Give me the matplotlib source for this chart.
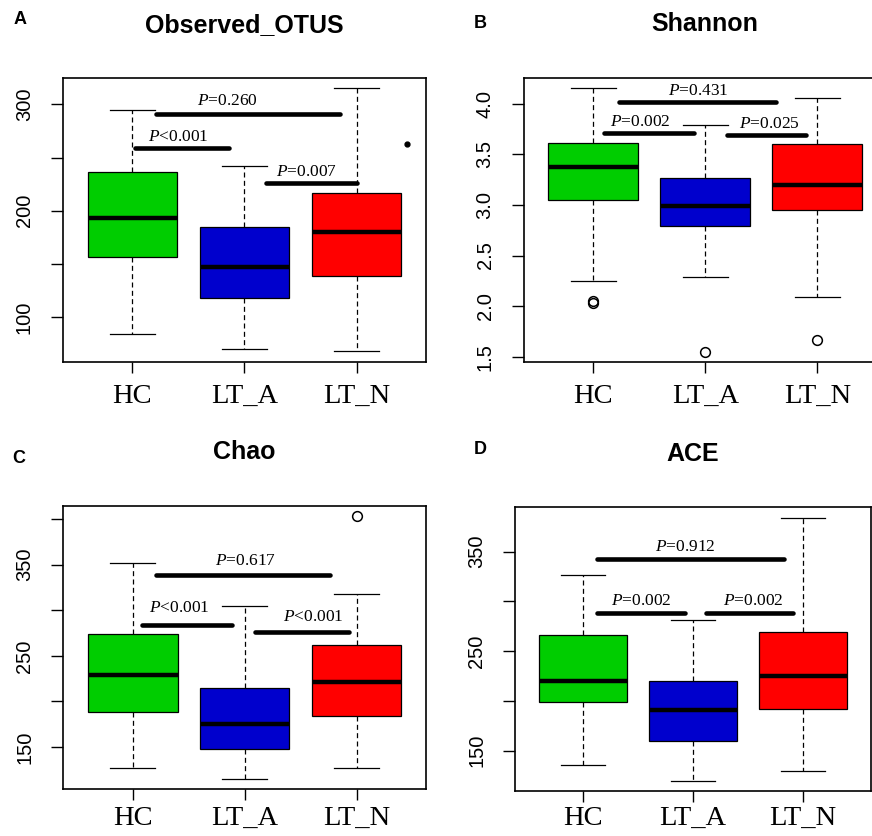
import matplotlib
matplotlib.use('Agg')
import matplotlib.pyplot as plt

plt.rcParams['mathtext.fontset'] = 'custom'
plt.rcParams['mathtext.rm'] = 'Liberation Serif'
plt.rcParams['mathtext.it'] = 'Liberation Serif:italic'
plt.rcParams['lines.scale_dashes'] = False

groups = ['HC', 'LT_A', 'LT_N']
box_colors = ['#00CD00', '#0000CD', '#FF0000']

# Observed_OTUS
otus_whislo = [84, 70, 68]
otus_q1 = [157, 118.5, 138.5]
otus_med = [193, 147, 180]
otus_q3 = [236, 185, 217]
otus_whishi = [295, 242, 315]
otus_fliers = [[], [], []]
otus_stray = [(3.45, 263)]
otus_pvals = ['=0.260', '<0.001', '=0.007']
otus_bar_y = [290.6, 259, 226.4]
otus_bar_x = [(1.21, 2.85), (1.02, 1.86), (2.19, 3.0)]
otus_text_x = [1.85, 1.41, 2.55]
otus_text_y = [303.4, 269.6, 236.7]

# Shannon
shan_whislo = [2.25, 2.29, 2.09]
shan_q1 = [3.045, 2.795, 2.95]
shan_med = [3.378, 2.992, 3.197]
shan_q3 = [3.609, 3.266, 3.605]
shan_whishi = [4.152, 3.786, 4.056]
shan_fliers = [[2.03, 2.05], [1.55], [1.665]]
shan_pvals = ['=0.431', '=0.002', '=0.025']
shan_bar_y = [4.017, 3.707, 3.69]
shan_bar_x = [(1.23, 2.63), (1.10, 1.90), (2.19, 2.90)]
shan_text_x = [1.94, 1.42, 2.57]
shan_text_y = [4.128, 3.816, 3.80]

# Chao
chao_whislo = [127, 115.4, 126.7]
chao_q1 = [188, 148.3, 184.1]
chao_med = [229.4, 175, 221.4]
chao_q3 = [274.3, 214.8, 261.6]
chao_whishi = [351.9, 304.7, 318.2]
chao_fliers = [[], [], [403.7]]
chao_pvals = ['=0.617', '<0.001', '<0.001']
chao_bar_y = [338.4, 283.6, 276.5]
chao_bar_x = [(1.21, 2.76), (1.08, 1.89), (2.09, 2.93)]
chao_text_x = [2.01, 1.42, 2.61]
chao_text_y = [353.7, 302.5, 292.3]

# ACE
ace_whislo = [135.3, 119.9, 129.3]
ace_q1 = [198.6, 160, 191.9]
ace_med = [219.8, 190.9, 225.4]
ace_q3 = [266, 219.8, 269.3]
ace_whishi = [326.9, 281, 384.2]
ace_fliers = [[], [], []]
ace_pvals = ['=0.912', '=0.002', '=0.002']
ace_bar_y = [343, 288.4, 288.4]
ace_bar_x = [(1.12, 2.83), (1.12, 1.93), (2.12, 2.91)]
ace_text_x = [1.93, 1.53, 2.55]
ace_text_y = [354.7, 300.2, 300.2]

fig = plt.figure(figsize=(8.72, 8.36), dpi=100)


def panel(rect, letter, letter_xy, title, title_y, whislo, q1, med, q3, whishi,
          fliers, pvals, bar_x, bar_y, text_x, text_y, ylim, yticks, ylabels,
          stray=(), xpad=8):
    ax = fig.add_axes(rect)
    stats = []
    for i in range(3):
        stats.append({'whislo': whislo[i], 'q1': q1[i], 'med': med[i],
                      'q3': q3[i], 'whishi': whishi[i], 'fliers': fliers[i]})
    bp = ax.bxp(stats, positions=[1, 2, 3], widths=0.8, patch_artist=True,
                showfliers=True,
                boxprops=dict(linewidth=0.9, edgecolor='black'),
                medianprops=dict(color='black', linewidth=3.2, solid_capstyle='butt'),
                whiskerprops=dict(color='black', linewidth=0.9,
                                  linestyle=(0, (3.6, 2.4))),
                capprops=dict(color='black', linewidth=0.9),
                capwidths=0.4,
                flierprops=dict(marker='o', markerfacecolor='none',
                                markeredgecolor='black', markersize=7,
                                markeredgewidth=1.1))
    for patch, c in zip(bp['boxes'], box_colors):
        patch.set_facecolor(c)
    for sx, sy in stray:
        ax.plot(sx, sy, 'o', color='black', markersize=3.5)

    for (x0, x1), y, tx, ty, p in zip(bar_x, bar_y, text_x, text_y, pvals):
        ax.plot([x0, x1], [y, y], color='black', linewidth=3.3,
                solid_capstyle='round')
        ax.text(tx, ty, r'$\mathit{P}$' + p, ha='center',
                va='center', fontsize=12.5, family='Liberation Serif')

    ax.set_xlim(0.38, 3.62)
    ax.set_ylim(*ylim)
    ax.set_xticks([1, 2, 3])
    ax.set_xticklabels(groups, family='Liberation Serif', fontsize=20.5)
    ax.set_yticks(yticks)
    ax.set_yticklabels(ylabels, rotation=90, va='center',
                       family='Liberation Sans', fontsize=14.5)
    ax.tick_params(axis='x', length=8, width=1.0, pad=xpad)
    ax.tick_params(axis='y', length=9, width=1.0, pad=12)
    for s in ax.spines.values():
        s.set_linewidth(1.2)

    cx = rect[0] + rect[2] / 2
    fig.text(cx, 1 - title_y / 836, title, ha='center', va='center',
             fontsize=18, fontweight='bold', family='Liberation Sans')
    fig.text(letter_xy[0] / 872, 1 - letter_xy[1] / 836, letter, ha='center',
             va='center', fontsize=13, fontweight='bold', family='Liberation Sans')
    return ax


panel([0.0722, 0.567, 0.4163, 0.3397], 'A', (20, 20), 'Observed_OTUS', 25,
      otus_whislo, otus_q1, otus_med, otus_q3, otus_whishi, otus_fliers,
      otus_pvals, otus_bar_x, otus_bar_y, otus_text_x, otus_text_y,
      (58, 324.7), [100, 150, 200, 250, 300], ['100', '', '200', '', '300'],
      stray=otus_stray)

panel([0.6006, 0.5673, 0.4163, 0.3397], 'B', (480, 24), 'Shannon', 24,
      shan_whislo, shan_q1, shan_med, shan_q3, shan_whishi, shan_fliers,
      shan_pvals, shan_bar_x, shan_bar_y, shan_text_x, shan_text_y,
      (1.45, 4.257), [1.5, 2.0, 2.5, 3.0, 3.5, 4.0],
      ['1.5', '2.0', '2.5', '3.0', '3.5', '4.0'])

panel([0.0726, 0.0562, 0.416, 0.3389], 'C', (19, 459), 'Chao', 452,
      chao_whislo, chao_q1, chao_med, chao_q3, chao_whishi, chao_fliers,
      chao_pvals, chao_bar_x, chao_bar_y, chao_text_x, chao_text_y,
      (104, 414.7), [150, 200, 250, 300, 350, 400],
      ['150', '', '250', '', '350', ''], xpad=4)

panel([0.5909, 0.0535, 0.4079, 0.3397], 'D', (480, 450), 'ACE', 454,
      ace_whislo, ace_q1, ace_med, ace_q3, ace_whishi, ace_fliers,
      ace_pvals, ace_bar_x, ace_bar_y, ace_text_x, ace_text_y,
      (109.2, 394.6), [150, 200, 250, 300, 350],
      ['150', '', '250', '', '350'], xpad=2.5)

fig.savefig('out.png', dpi=100)
